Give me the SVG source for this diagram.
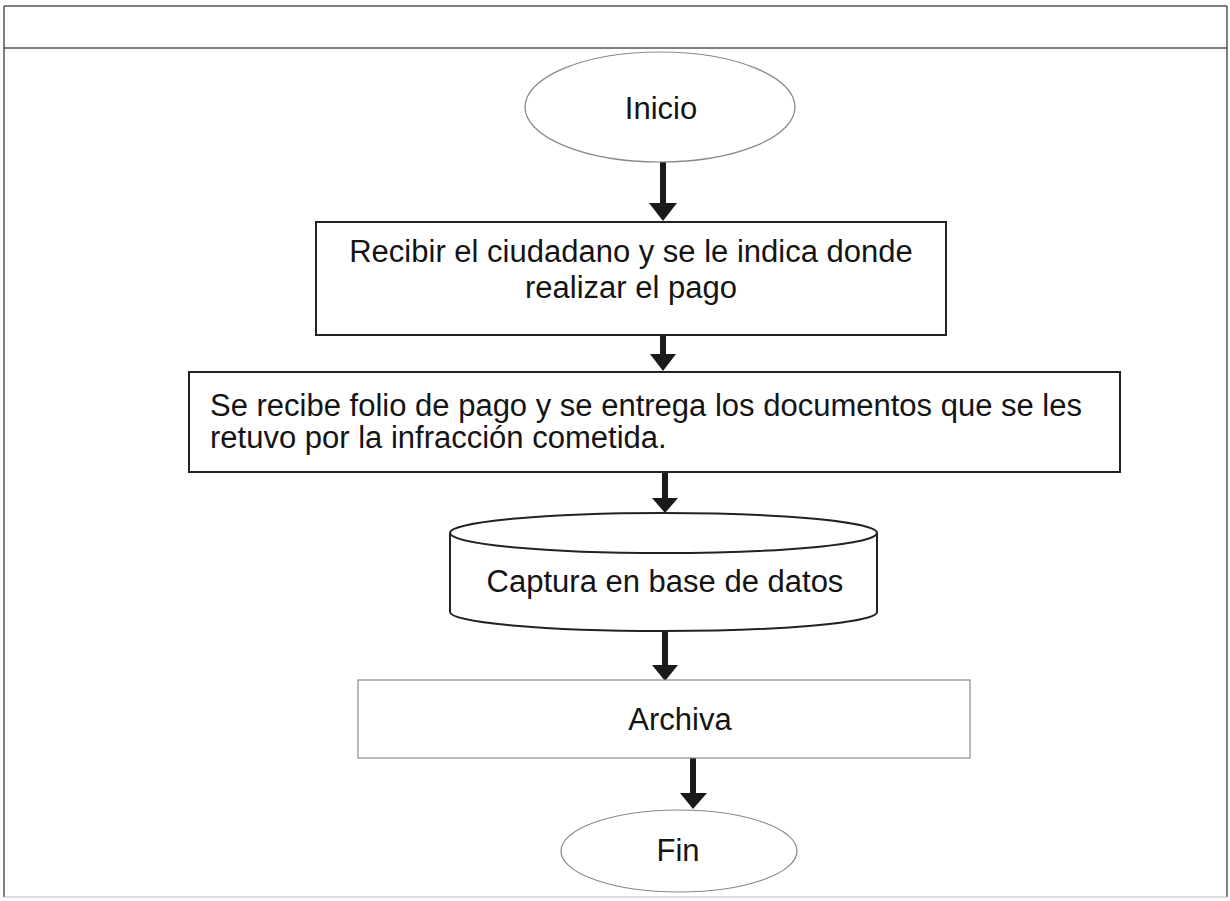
<svg xmlns="http://www.w3.org/2000/svg" width="1230" height="901" viewBox="0 0 1230 901">
<defs>
<style>
.t{font-family:"Liberation Sans",Arial,sans-serif;font-size:31px;fill:#141414}
.dark{fill:#fff;stroke:#222;stroke-width:2}
.light{fill:#fff;stroke:#888;stroke-width:1.2}
.frame{fill:none;stroke:#555;stroke-width:1.5}
.shaft{stroke:#1a1a1a;stroke-width:6;fill:none}
.head{fill:#1a1a1a}
</style>
</defs>
<rect width="1230" height="901" fill="#fff"/>
<g id="frame">
<line class="frame" x1="4" y1="6" x2="1227" y2="6"/>
<line class="frame" x1="4" y1="48" x2="1227" y2="48"/>
<line class="frame" x1="4" y1="6" x2="4" y2="897"/>
<line class="frame" x1="1227" y1="6" x2="1227" y2="897"/>
<line x1="4" y1="897" x2="1227" y2="897" stroke="#bbb" stroke-width="1"/>
</g>
<g id="connectors">
<line class="shaft" x1="663" y1="162" x2="663" y2="204"/>
<polygon class="head" points="649,203 677,203 663,221"/>
<line class="shaft" x1="663" y1="335" x2="663" y2="355"/>
<polygon class="head" points="650,354 676,354 663,371"/>
<line class="shaft" x1="665" y1="472" x2="665" y2="499"/>
<polygon class="head" points="652,498 678,498 665,513"/>
<line class="shaft" x1="665" y1="630" x2="665" y2="666"/>
<polygon class="head" points="652,665 678,665 665,681"/>
<line class="shaft" x1="693" y1="758" x2="693" y2="794"/>
<polygon class="head" points="680,793 707,793 693,809"/>
</g>
<g id="inicio">
<ellipse class="light" cx="660" cy="107" rx="135" ry="55"/>
<text class="t" x="661" y="119" text-anchor="middle">Inicio</text>
</g>
<g id="recibir">
<rect class="dark" x="316" y="222" width="630" height="113"/>
<text class="t" x="631" y="262" text-anchor="middle">Recibir el ciudadano y se le indica donde</text>
<text class="t" x="631" y="298" text-anchor="middle">realizar el pago</text>
</g>
<g id="folio">
<rect class="dark" x="189" y="372" width="931" height="100"/>
<text class="t" x="210" y="416">Se recibe folio de pago y se entrega los documentos que se les</text>
<text class="t" x="210" y="448">retuvo por la infracción cometida.</text>
</g>
<g id="captura">
<path class="dark" d="M450,533 L450,612 A213.5,19 0 0 0 877,612 L877,533"/>
<ellipse class="dark" cx="663.5" cy="533" rx="213.5" ry="20"/>
<text class="t" x="665" y="592" text-anchor="middle">Captura en base de datos</text>
</g>
<g id="archiva">
<rect class="light" x="358" y="680" width="612" height="78"/>
<text class="t" x="680" y="730" text-anchor="middle">Archiva</text>
</g>
<g id="fin">
<ellipse class="light" cx="679" cy="851" rx="118" ry="41"/>
<text class="t" x="678" y="861" text-anchor="middle">Fin</text>
</g>
</svg>
